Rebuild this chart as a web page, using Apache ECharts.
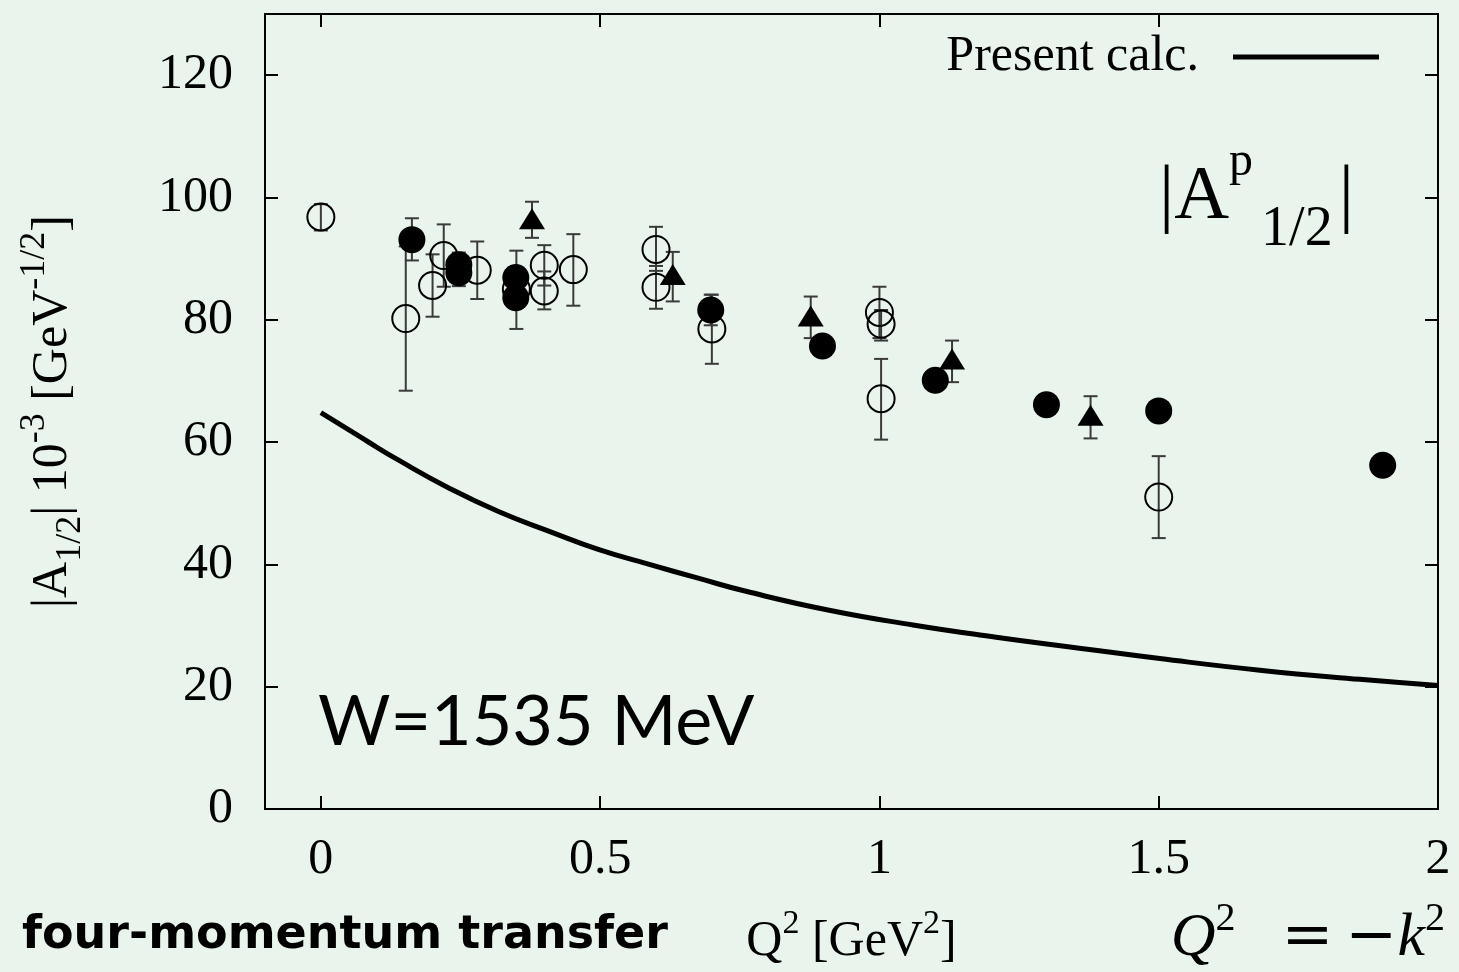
<!DOCTYPE html>
<html>
<head>
<meta charset="utf-8">
<title>|A1/2| at W=1535 MeV</title>
<script src="https://cdn.jsdelivr.net/npm/echarts@6/dist/echarts.min.js"></script>
<style>
    html, body { margin: 0; padding: 0; background: #e9f5ec; }
    #chart { width: 1459px; height: 972px; }
</style>
</head>
<body>
<div id="chart"></div>
<script>
"use strict";

// each point: [Q^2, |A1/2|, error bar low, error bar high] (null = no bar)
const openCircles = [
    [0.0, 96.8, 94.6, 98.9],
    [0.152, 80.2, 68.4, 92.0],
    [0.20, 85.6, 80.5, 90.7],
    [0.22, 90.5, 85.4, 95.6],
    [0.28, 88.1, 83.4, 92.8],
    [0.35, 85.0, 78.5, 91.3],
    [0.40, 88.9, 85.6, 92.2],
    [0.40, 84.7, 81.7, 87.9],
    [0.452, 88.2, 82.3, 94.0],
    [0.60, 91.5, 88.0, 95.2],
    [0.60, 85.3, 81.8, 88.8],
    [0.70, 78.5, 72.8, 84.1],
    [1.0, 81.2, 77.0, 85.4],
    [1.003, 79.3, 76.6, 81.6],
    [1.003, 67.1, 60.4, 73.6],
    [1.5, 51.0, 44.3, 57.7]
];
const filledCircles = [
    [0.163, 93.1, 89.7, 96.6],
    [0.247, 89.0, 87.0, 91.0],
    [0.247, 87.7, 85.5, 89.8],
    [0.349, 86.9, null, null],
    [0.349, 83.6, null, null],
    [0.698, 81.6, 79.1, 84.1],
    [0.898, 75.7, null, null],
    [1.10, 70.1, null, null],
    [1.299, 66.1, null, null],
    [1.5, 65.1, null, null],
    [1.901, 56.2, null, null]
];
const triangles = [
    [0.378, 96.5, 93.4, 99.3],
    [0.63, 87.4, 83.0, 91.1],
    [0.877, 80.6, 77.0, 83.8],
    [1.13, 73.6, 69.8, 76.6],
    [1.378, 64.4, 60.6, 67.5]
];
// present calculation
const calcCurve = [
    [0, 64.8], [0.08, 60.3], [0.14, 57.0], [0.229, 52.5], [0.319, 48.6],
    [0.409, 45.4], [0.498, 42.4], [0.588, 40.0], [0.677, 37.7], [0.761, 35.6],
    [0.91, 32.5], [1.06, 30.1], [1.209, 28.1], [1.358, 26.3], [1.502, 24.6],
    [1.681, 22.7], [1.86, 21.2], [2.0, 20.2]
];

const xTicks = [0, 0.5, 1, 1.5, 2];
const yTicks = [0, 20, 40, 60, 80, 100, 120];

const SERIF = 'Liberation Serif';

// collect all error bars into one custom series
let errorBars = [];
[openCircles, filledCircles, triangles].forEach(function (set) {
    set.forEach(function (p) {
        if (p[2] !== null) errorBars.push([p[0], p[2], p[3]]);
    });
});

function renderErrorBar(params, api) {
    const x = api.value(0);
    const lo = api.coord([x, api.value(1)]);
    const hi = api.coord([x, api.value(2)]);
    const half = 7;
    const style = { stroke: '#3a3a3a', lineWidth: 2 };
    return {
        type: 'group',
        children: [
            { type: 'line', shape: { x1: lo[0], y1: lo[1], x2: hi[0], y2: hi[1] }, style: style },
            { type: 'line', shape: { x1: lo[0] - half, y1: lo[1], x2: lo[0] + half, y2: lo[1] }, style: style },
            { type: 'line', shape: { x1: hi[0] - half, y1: hi[1], x2: hi[0] + half, y2: hi[1] }, style: style }
        ]
    };
}

function xy(set) {
    return set.map(function (p) { return [p[0], p[1]]; });
}

const tickStyle = { color: '#000', width: 2 };

function xAxisDef(pos, showLabels) {
    return {
        type: 'value', position: pos, min: -0.1, max: 2,
        axisLine: { show: true, onZero: false, lineStyle: tickStyle },
        axisTick: { show: true, inside: true, length: 13, lineStyle: tickStyle, customValues: xTicks },
        axisLabel: {
            show: showLabels, customValues: xTicks, margin: 26,
            fontFamily: SERIF, fontSize: 50, color: '#000'
        },
        splitLine: { show: false }
    };
}

function yAxisDef(pos, showLabels) {
    return {
        type: 'value', position: pos, min: 0, max: 130,
        axisLine: { show: true, onZero: false, lineStyle: tickStyle },
        axisTick: { show: true, inside: true, length: 13, lineStyle: tickStyle, customValues: yTicks },
        axisLabel: {
            show: showLabels, customValues: yTicks, margin: 32,
            fontFamily: SERIF, fontSize: 50, color: '#000'
        },
        splitLine: { show: false }
    };
}

// sub/superscripts: tokens share one line box, sup sits at its top, sub at its bottom
function scriptRich(main, small, lineH, supH, subH) {
    return {
        t: { fontFamily: SERIF, fontSize: main, color: '#000', lineHeight: lineH },
        sup: { fontFamily: SERIF, fontSize: small, color: '#000', lineHeight: supH, verticalAlign: 'top' },
        sub: { fontFamily: SERIF, fontSize: small, color: '#000', lineHeight: subH, verticalAlign: 'bottom' }
    };
}

let xBottom = xAxisDef('bottom', true);
xBottom.name = '{t|Q}{sup|2}{t| [GeV}{sup|2}{t|]}';
xBottom.nameLocation = 'middle';
xBottom.nameGap = 98;
xBottom.nameTextStyle = {
    fontFamily: SERIF, fontSize: 50, color: '#000',
    rich: scriptRich(50, 34, 70, 40, 40)
};

let yLeft = yAxisDef('left', true);
yLeft.name = '{t||A}{sub|1/2}{t|| 10}{sup|-3}{t| [GeV}{sup|-1/2}{t|]}';
yLeft.nameLocation = 'middle';
yLeft.nameRotate = 90;
yLeft.nameGap = 176;
yLeft.nameTextStyle = {
    fontFamily: SERIF, fontSize: 50, color: '#000',
    rich: scriptRich(50, 36, 72, 42, 44)
};

const chart = echarts.init(document.getElementById('chart'));

const option = {
    backgroundColor: '#e9f5ec',
    animation: false,
    grid: {
        left: 265, right: 21, top: 14, bottom: 160,
        show: true, borderColor: '#000', borderWidth: 2, backgroundColor: 'transparent'
    },
    legend: {
        data: ['Present calc.'],
        right: 75, top: 27,
        align: 'right',
        icon: 'rect',
        itemWidth: 146, itemHeight: 5,
        selectedMode: false,
        textStyle: { fontFamily: SERIF, fontSize: 50, color: '#000', padding: [0, 29, 0, 0] }
    },
    xAxis: [xBottom, xAxisDef('top', false)],
    yAxis: [yLeft, yAxisDef('right', false)],
    graphic: [
        {
            type: 'text', left: 318, top: 687,
            style: { text: 'W=1535 MeV', font: '70px Lato', fill: '#000' }
        },
        {
            type: 'text', left: 1159, top: 138,
            style: {
                text: '{a||A}{p|p}{s|1/2}{b||}',
                rich: {
                    a: { font: '76px "Liberation Serif"', fill: '#000', lineHeight: 120 },
                    b: { font: '76px "Liberation Serif"', fill: '#000', lineHeight: 120, padding: [0, 0, 0, 6] },
                    p: { font: '48px "Liberation Serif"', fill: '#000', lineHeight: 84, verticalAlign: 'top' },
                    s: { font: '56px "Liberation Serif"', fill: '#000', lineHeight: 60, verticalAlign: 'bottom', padding: [0, 0, 0, 8] }
                }
            }
        },
        {
            type: 'text', left: 22, top: 913,
            style: { text: 'four-momentum transfer', font: 'bold 46px "Comic Sans MS", "DejaVu Sans"', fill: '#000' }
        },
        {
            type: 'text', right: 14, top: 899,
            style: {
                text: '{q|Q}{s|2}{e|=}{m|−}{q|k}{s|2}',
                rich: {
                    q: { font: 'italic 62px "Liberation Serif"', fill: '#000', lineHeight: 80 },
                    e: { font: '62px "DejaVu Serif"', fill: '#000', lineHeight: 80, padding: [0, 12, 0, 46] },
                    m: { font: '62px "DejaVu Serif"', fill: '#000', lineHeight: 80 },
                    s: { font: '40px "Liberation Serif"', fill: '#000', lineHeight: 44, verticalAlign: 'top' }
                }
            }
        }
    ],
    series: [
        {
            name: 'errors', type: 'custom', renderItem: renderErrorBar,
            data: errorBars, encode: { x: 0, y: [1, 2] }, z: 1, silent: true
        },
        {
            name: 'Present calc.', type: 'line', data: calcCurve, smooth: true,
            showSymbol: false, lineStyle: { color: '#000', width: 5 }, itemStyle: { color: '#000' }, z: 2
        },
        {
            name: 'open', type: 'scatter', data: xy(openCircles), symbol: 'circle', symbolSize: 27,
            itemStyle: { color: 'rgba(0,0,0,0)', borderColor: '#000', borderWidth: 2, opacity: 1 }, z: 3
        },
        {
            name: 'filled', type: 'scatter', data: xy(filledCircles), symbol: 'circle', symbolSize: 27,
            itemStyle: { color: '#000', opacity: 1 }, z: 4
        },
        {
            name: 'triangles', type: 'scatter', data: xy(triangles), symbol: 'triangle', symbolSize: [26, 21],
            itemStyle: { color: '#000', opacity: 1 }, z: 4
        }
    ]
};

chart.setOption(option);
</script>
</body>
</html>
